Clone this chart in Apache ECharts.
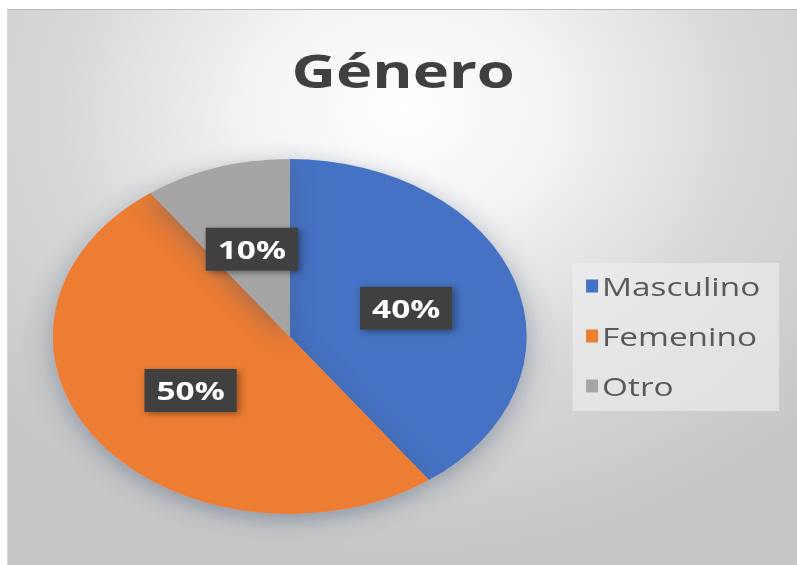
<!DOCTYPE html>
<html>
<head>
<meta charset="utf-8">
<script src="https://cdn.jsdelivr.net/npm/echarts@6/dist/echarts.min.js"></script>
<style>
  html, body { margin: 0; padding: 0; background: #fff; }
  #frame {
    position: absolute; left: 7px; top: 9px; width: 790px; height: 556px;
    border-top: 1px solid #bdbdbd; border-left: 1px solid #d6d6d6;
    background: radial-gradient(ellipse 70% 80% at 50% 18%, #ffffff 0%, #f3f3f3 28%, #d8d8d8 62%, #c7c7c7 100%);
    overflow: hidden;
  }
  /* the reference is a horizontally stretched screenshot, so the chart is stretched too */
  #main { width: 592px; height: 556px; transform: scaleX(1.335); transform-origin: 0 0; }
</style>
</head>
<body>
<div id="frame"><div id="main"></div></div>
<script>
var categories = ['Masculino', 'Femenino', 'Otro'];
var shares = [40, 50, 10];
var colors = ['#4472c4', '#ed7d31', '#a5a5a5'];

var chart = echarts.init(document.getElementById('main'), null, { renderer: 'svg' });

var option = {
  animation: false,
  color: colors,
  textStyle: { fontFamily: 'Open Sans' },
  title: {
    text: 'Género',
    left: 'center',
    top: 32,
    textStyle: { fontSize: 46, fontWeight: 'bold', color: '#404040', fontFamily: 'Open Sans' }
  },
  legend: {
    orient: 'vertical',
    left: 423,
    top: 253,
    icon: 'rect',
    itemWidth: 9,
    itemHeight: 13,
    itemGap: 24,
    padding: [10, 14, 12, 10],
    backgroundColor: 'rgba(240,240,240,0.6)',
    data: categories,
    textStyle: { fontSize: 25, lineHeight: 26, color: '#595959', padding: [0, 0, 0, -2] }
  },
  series: [
    {
      type: 'pie',
      center: [211, 326.5],
      radius: 177.5,
      startAngle: 90,
      clockwise: true,
      silent: true,
      itemStyle: {
        shadowBlur: 22,
        shadowColor: 'rgba(60,80,110,0.45)',
        shadowOffsetY: 6
      },
      label: {
        show: true,
        position: 'inside',
        formatter: '{c}%',
        fontSize: 25,
        fontWeight: 'bold',
        lineHeight: 25,
        color: '#ffffff',
        backgroundColor: '#404040',
        padding: [9, 9],
        shadowBlur: 6,
        shadowColor: 'rgba(0,0,0,0.4)',
        shadowOffsetX: 2,
        shadowOffsetY: 2
      },
      labelLine: { show: false },
      data: categories.map(function (name, i) {
        return { name: name, value: shares[i] };
      })
    }
  ]
};

chart.setOption(option);
</script>
</body>
</html>
